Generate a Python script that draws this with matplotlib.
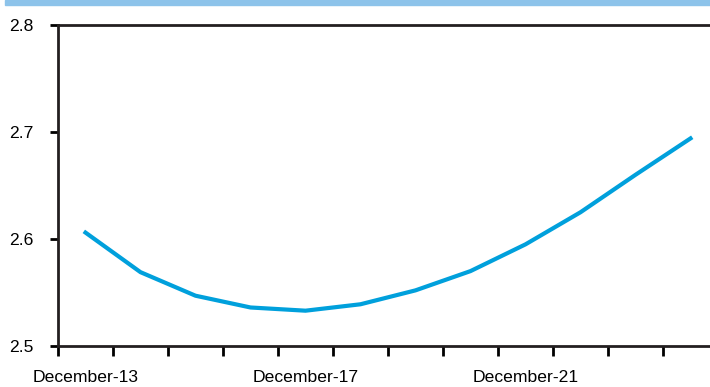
import matplotlib.pyplot as plt
import matplotlib.patches as patches
import numpy as np

# data
labels = ['December-13', 'December-14', 'December-15', 'December-16',
          'December-17', 'December-18', 'December-19', 'December-20',
          'December-21', 'December-22', 'December-23', 'December-24']
values = [2.606, 2.569, 2.547, 2.536, 2.533, 2.539,
          2.552, 2.570, 2.595, 2.625, 2.660, 2.694]
shown_labels = ['December-13', 'December-17', 'December-21']
y_ticks = [2.5, 2.6, 2.7, 2.8]

plt.rcParams['font.family'] = ['Liberation Sans', 'DejaVu Sans']

fig = plt.figure(figsize=(7.10, 3.87), dpi=100)
# header band
fig.patches.append(patches.Rectangle((5 / 710, 382 / 387), 1, 5 / 387,
                                     transform=fig.transFigure,
                                     color='#8DC3EA', zorder=0))

ax = fig.add_axes([58 / 710, 41 / 387, 660 / 710, 321 / 387])
x = np.arange(len(values))
ax.plot(x, values, color='#00A0DC', linewidth=3, solid_joinstyle='miter')

ax.set_xlim(-0.5, len(values) - 0.5)
ax.set_ylim(2.5, 2.8)

# category labels between ticks
pos = [labels.index(l) for l in shown_labels]
ax.set_xticks(pos)
ax.set_xticklabels(shown_labels, fontsize=12.6)
ax.set_xticks(np.arange(len(values) + 1) - 0.5, minor=True)
ax.tick_params(axis='x', which='major', length=0, pad=17.5)
ax.tick_params(axis='x', which='minor', length=7, width=2, direction='out')

ax.set_yticks(y_ticks)
ax.set_yticklabels([f'{v:.1f}' for v in y_ticks], fontsize=12.6)
ax.tick_params(axis='y', length=6, width=2, pad=12)

for s in ['left', 'bottom', 'top']:
    ax.spines[s].set_linewidth(2)
    ax.spines[s].set_color('#231F20')
ax.spines['right'].set_visible(False)

fig.savefig('out.png', dpi=100)
